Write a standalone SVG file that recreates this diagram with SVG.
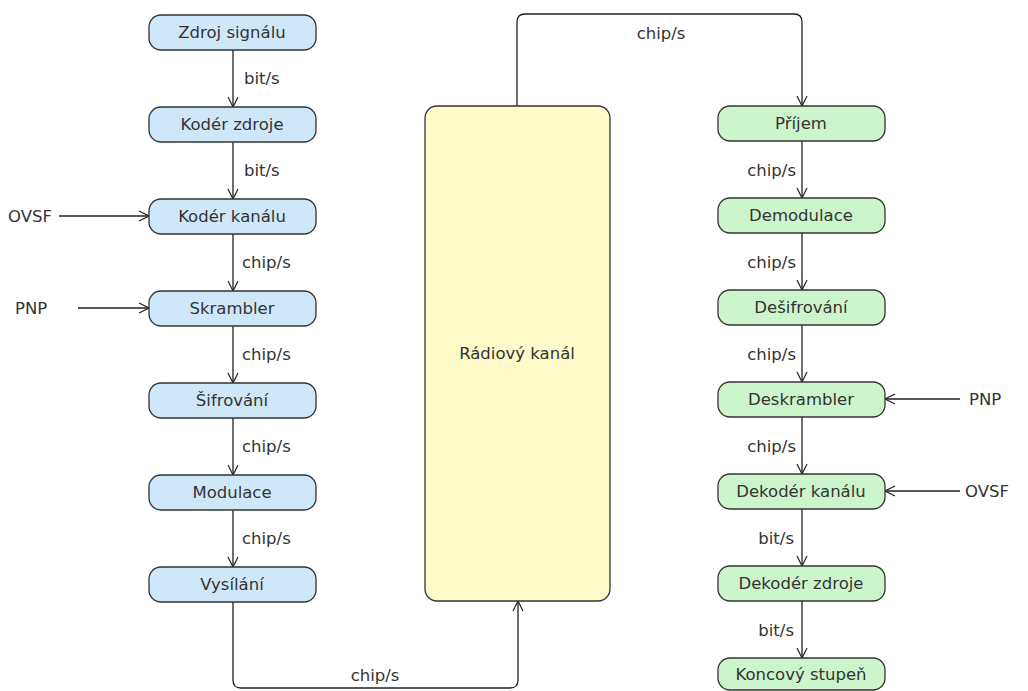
<svg xmlns="http://www.w3.org/2000/svg" width="1028" height="691" viewBox="0 0 1028 691">
<defs>
<marker id="arr" viewBox="0 0 12 12" refX="11" refY="6" markerWidth="12" markerHeight="12" markerUnits="userSpaceOnUse" orient="auto">
<path d="M1,1 L11,6 L1,11" fill="none" stroke="#222" stroke-width="1.2"/>
</marker>
<style>
text{font-family:"DejaVu Sans",Verdana,sans-serif;font-size:16.5px;fill:#333}
.nt{text-anchor:middle;dominant-baseline:central}
.e{text-anchor:end}
.m{text-anchor:middle}
.b{fill:#cfe8f9;stroke:#333;stroke-width:1.3}
.g{fill:#ccf5cc;stroke:#333;stroke-width:1.3}
.y{fill:#fdfbc9;stroke:#333;stroke-width:1.3}
.c{fill:none;stroke:#222;stroke-width:1.3;marker-end:url(#arr)}
</style>
</defs>
<rect width="1028" height="691" fill="#fff"/>
<g id="connectors">
<path class="c" d="M233,50 V107"/>
<path class="c" d="M233,142 V199"/>
<path class="c" d="M233,234 V291"/>
<path class="c" d="M233,326 V383"/>
<path class="c" d="M233,418 V475"/>
<path class="c" d="M233,510 V567"/>
<path class="c" d="M233,602 V680 Q233,688 241,688 H510 Q518,688 518,680 V601"/>
<path class="c" d="M517,106 V22 Q517,14 525,14 H794 Q802,14 802,22 V106"/>
<path class="c" d="M802,141 V198"/>
<path class="c" d="M802,233 V290"/>
<path class="c" d="M802,325 V382"/>
<path class="c" d="M802,417 V474"/>
<path class="c" d="M802,509 V566"/>
<path class="c" d="M802,601 V658"/>
<path class="c" d="M59,216 H149"/>
<path class="c" d="M78,308 H149"/>
<path class="c" d="M960,399 H885"/>
<path class="c" d="M960,491 H885"/>
<text x="244" y="84">bit/s</text>
<text x="244" y="176">bit/s</text>
<text x="242" y="268">chip/s</text>
<text x="242" y="360">chip/s</text>
<text x="242" y="452">chip/s</text>
<text x="242" y="544">chip/s</text>
<text class="m" x="375" y="681">chip/s</text>
<text class="m" x="661" y="39">chip/s</text>
<text class="e" x="796" y="176">chip/s</text>
<text class="e" x="796" y="268">chip/s</text>
<text class="e" x="796" y="360">chip/s</text>
<text class="e" x="796" y="452">chip/s</text>
<text class="e" x="794" y="544">bit/s</text>
<text class="e" x="794" y="636">bit/s</text>
<text x="8" y="222">OVSF</text>
<text x="15" y="314">PNP</text>
<text x="969" y="405">PNP</text>
<text x="965" y="497">OVSF</text>
</g>
<g id="n1"><rect class="b" x="149" y="15" width="167" height="35" rx="12"/><text class="nt" x="232" y="32">Zdroj signálu</text></g>
<g id="n2"><rect class="b" x="149" y="107" width="167" height="35" rx="12"/><text class="nt" x="232" y="124">Kodér zdroje</text></g>
<g id="n3"><rect class="b" x="149" y="199" width="167" height="35" rx="12"/><text class="nt" x="232" y="216">Kodér kanálu</text></g>
<g id="n4"><rect class="b" x="149" y="291" width="167" height="35" rx="12"/><text class="nt" x="232" y="308">Skrambler</text></g>
<g id="n5"><rect class="b" x="149" y="383" width="167" height="35" rx="12"/><text class="nt" x="232" y="400">Šifrování</text></g>
<g id="n6"><rect class="b" x="149" y="475" width="167" height="35" rx="12"/><text class="nt" x="232" y="492">Modulace</text></g>
<g id="n7"><rect class="b" x="149" y="567" width="167" height="35" rx="12"/><text class="nt" x="232" y="584">Vysílání</text></g>
<g id="radio"><rect class="y" x="425" y="106" width="185" height="495" rx="12"/><text class="nt" x="517" y="353">Rádiový kanál</text></g>
<g id="r1"><rect class="g" x="718" y="106" width="167" height="35" rx="12"/><text class="nt" x="801" y="123">Příjem</text></g>
<g id="r2"><rect class="g" x="718" y="198" width="167" height="35" rx="12"/><text class="nt" x="801" y="215">Demodulace</text></g>
<g id="r3"><rect class="g" x="718" y="290" width="167" height="35" rx="12"/><text class="nt" x="801" y="307">Dešifrování</text></g>
<g id="r4"><rect class="g" x="718" y="382" width="167" height="35" rx="12"/><text class="nt" x="801" y="399">Deskrambler</text></g>
<g id="r5"><rect class="g" x="718" y="474" width="167" height="35" rx="12"/><text class="nt" x="801" y="491">Dekodér kanálu</text></g>
<g id="r6"><rect class="g" x="718" y="566" width="167" height="35" rx="12"/><text class="nt" x="801" y="583">Dekodér zdroje</text></g>
<g id="r7"><rect class="g" x="718" y="658" width="167" height="32" rx="12"/><text class="nt" x="801" y="674">Koncový stupeň</text></g>
</svg>
